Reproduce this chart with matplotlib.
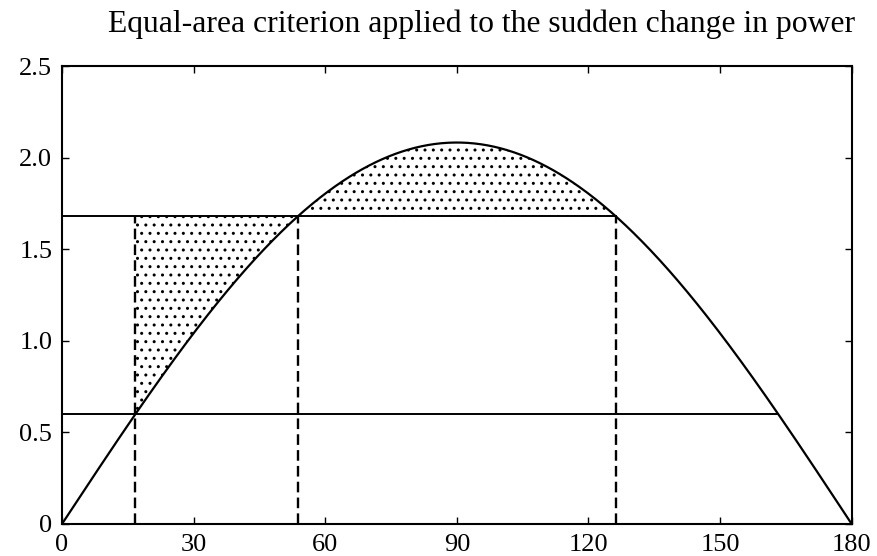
import numpy as np
import matplotlib.pyplot as plt

# power-angle data (degrees, p.u.)
delta = np.linspace(0, 180, 721)
p_max = 2.083
p_before = 0.6
p_after = 1.68
delta0 = 16.7     # initial operating angle
delta1 = 53.8     # new equilibrium angle
delta_m = 126.2   # maximum swing angle
delta_end_low = 163.3

xticks = [0, 30, 60, 90, 120, 150, 180]
yticks = [0, 0.5, 1.0, 1.5, 2.0, 2.5]
yticklabels = ['0', '0.5', '1.0', '1.5', '2.0', '2.5']

plt.rcParams['hatch.linewidth'] = 1.0
fig = plt.figure(figsize=(8.78, 5.56), dpi=100)
ax = fig.add_axes([0.0706, 0.0576, 0.8994, 0.8234])

pe = p_max * np.sin(np.radians(delta))
ax.plot(delta, pe, color='black', lw=1.6)

# accelerating area
m1 = (delta >= delta0) & (delta <= delta1)
ax.fill_between(delta[m1], pe[m1], p_after, facecolor='none', edgecolor='black',
                hatch='..', linewidth=0)
# decelerating area
m2 = (delta >= delta1) & (delta <= delta_m)
ax.fill_between(delta[m2], p_after, pe[m2], facecolor='none', edgecolor='black',
                hatch='..', linewidth=0)

ax.plot([0, delta_m], [p_after, p_after], color='black', lw=1.4)
ax.plot([0, delta_end_low], [p_before, p_before], color='black', lw=1.4)

for d in [delta0, delta1, delta_m]:
    ax.plot([d, d], [0, p_after], color='black', lw=1.7, ls=(0, (4.5, 2.2)))

ax.set_xlim(0, 180)
ax.set_ylim(0, 2.5)
ax.set_xticks(xticks)
ax.set_yticks(yticks)
ax.set_yticklabels(yticklabels)
ax.tick_params(direction='in', top=True, right=True, length=5, width=1,
               labelsize=19)
ax.tick_params(axis='y', pad=7)
ax.tick_params(axis='x', pad=7)
for lab in ax.get_xticklabels() + ax.get_yticklabels():
    lab.set_fontfamily('Liberation Serif')
for s in ax.spines.values():
    s.set_linewidth(1.5)

fig.text(0.549, 0.943, 'Equal-area criterion applied to the sudden change in power',
         ha='center', va='baseline', fontsize=22.8, family='Liberation Serif')

plt.savefig('out.png', dpi=100)
